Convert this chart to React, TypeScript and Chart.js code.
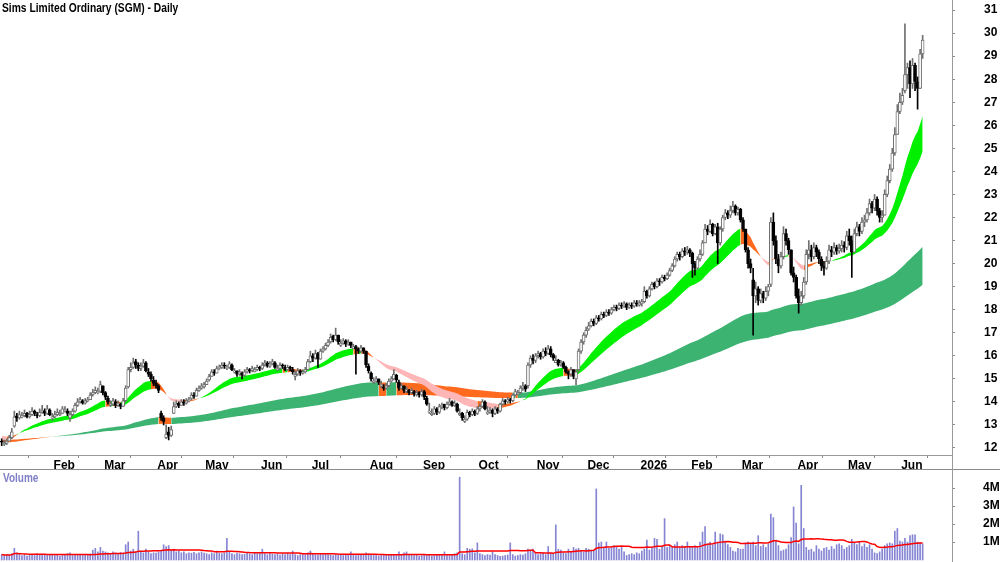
import React, { useEffect, useRef } from "react";
import { Chart, registerables } from "chart.js";

Chart.register(...registerables);

const FONT = "'Liberation Sans Narrow', 'Arial Narrow', 'Liberation Sans', Arial, sans-serif";

const chartTitle = "Sims Limited Ordinary (SGM) - Daily";
const volumeTitle = "Volume";

// trading days in each month, Jan 2025 .. Jun 2026
const tradingDaysPerMonth = [21, 20, 21, 19, 22, 20, 23, 21, 22, 23, 20, 21, 20, 20, 22, 20, 21, 9];
// labels for month boundaries Feb 2025 .. Jun 2026
const monthTickLabels = ["Feb", "Mar", "Apr", "May", "Jun", "Jul", "Aug", "Sep", "Oct", "Nov", "Dec", "2026", "Feb", "Mar", "Apr", "May", "Jun"];
const priceTicks = [12, 13, 14, 15, 16, 17, 18, 19, 20, 21, 22, 23, 24, 25, 26, 27, 28, 29, 30, 31];
const volumeTicks = [1, 2, 3, 4];

const opensByMonth: number[][] = [
  [12.3, 12.15, 12.2, 12.3, 12.45, 12.95, 13.4, 13.3, 13.35, 13.4, 13.5, 13.35, 13.45, 13.6, 13.45, 13.4, 13.55, 13.6, 13.5, 13.65, 13.3],
  [13.35, 13.45, 13.45, 13.5, 13.6, 13.6, 13.3, 13.45, 13.6, 13.85, 14.0, 14.05, 13.95, 14.05, 14.1, 14.3, 14.4, 14.4, 14.45, 14.7],
  [14.4, 14.15, 13.85, 13.9, 14.0, 13.85, 13.9, 13.8, 14.05, 14.65, 15.4, 15.5, 15.75, 15.6, 15.45, 15.55, 15.7, 15.3, 15.2, 14.95, 14.8],
  [14.7, 13.5, 13.3, 12.45, 12.7, 12.55, 13.5, 13.8, 13.95, 13.85, 14.0, 13.95, 14.05, 14.15, 14.3, 14.25, 14.5, 14.6, 14.65],
  [14.75, 14.95, 15.1, 15.3, 15.25, 15.45, 15.5, 15.6, 15.45, 15.5, 15.6, 15.3, 15.35, 15.2, 15.25, 15.15, 15.3, 15.4, 15.35, 15.3, 15.4, 15.5],
  [15.45, 15.6, 15.7, 15.55, 15.65, 15.7, 15.4, 15.45, 15.6, 15.5, 15.4, 15.5, 15.4, 15.1, 15.2, 15.35, 15.25, 15.3, 15.4, 15.75],
  [16.0, 15.9, 16.1, 15.85, 16.2, 16.3, 16.45, 16.6, 16.85, 16.7, 16.9, 16.45, 16.55, 16.65, 16.5, 16.6, 16.3, 16.4, 16.3, 16.2, 16.35, 16.2, 15.55],
  [15.25, 14.85, 14.9, 15.0, 14.7, 14.65, 14.6, 14.7, 14.9, 15.0, 15.15, 14.85, 14.6, 14.7, 14.45, 14.5, 14.4, 14.45, 14.3, 14.4, 14.3],
  [14.45, 14.15, 13.55, 13.45, 13.5, 13.7, 13.55, 13.8, 13.9, 13.75, 13.9, 14.0, 13.85, 13.9, 13.45, 13.5, 13.15, 13.25, 13.55, 13.45, 13.6, 13.5],
  [13.7, 13.8, 14.0, 13.5, 13.55, 13.65, 13.5, 13.7, 13.6, 13.9, 14.05, 14.0, 14.1, 14.05, 14.3, 14.35, 14.4, 14.6, 14.7, 14.7, 15.6, 15.9, 15.8],
  [16.0, 16.1, 15.95, 16.2, 16.1, 16.3, 16.05, 15.7, 15.8, 15.6, 15.7, 15.5, 15.3, 15.2, 15.4, 15.0, 15.4, 16.2, 16.6, 16.9],
  [17.15, 17.3, 17.5, 17.4, 17.65, 17.6, 17.8, 17.75, 17.9, 17.85, 18.0, 18.1, 18.05, 18.2, 18.15, 18.25, 18.1, 18.2, 18.15, 18.3, 18.2],
  [18.25, 18.35, 18.8, 18.6, 18.9, 19.15, 19.0, 19.25, 19.2, 19.4, 19.35, 19.5, 19.7, 19.9, 20.2, 20.4, 20.3, 20.55, 20.5, 20.6],
  [20.45, 20.0, 19.8, 20.2, 20.4, 20.9, 21.5, 21.4, 21.7, 21.3, 21.6, 20.9, 21.5, 22.0, 22.2, 22.1, 22.3, 22.5, 22.2, 22.35],
  [21.9, 21.5, 20.6, 20.0, 19.3, 18.6, 18.9, 18.4, 18.7, 18.5, 18.8, 19.1, 21.8, 21.0, 20.2, 19.9, 20.3, 21.3, 21.0, 20.6, 19.6, 19.4],
  [18.6, 18.3, 18.6, 19.2, 20.4, 20.6, 20.3, 20.7, 20.5, 20.2, 19.9, 19.8, 20.1, 20.6, 20.5, 20.7, 20.55, 20.65, 20.8, 20.7],
  [21.2, 21.0, 20.5, 21.3, 21.6, 21.4, 21.8, 21.9, 22.2, 22.6, 22.4, 22.8, 22.3, 22.0, 22.1, 23.0, 23.6, 24.1, 24.8, 25.6, 26.6],
  [27.0, 27.5, 28.2, 28.5, 27.8, 28.6, 27.9, 27.6, 29.1],
];

const closesByMonth: number[][] = [
  [12.25, 12.2, 12.3, 12.45, 12.7, 13.35, 13.3, 13.45, 13.4, 13.5, 13.35, 13.45, 13.6, 13.5, 13.4, 13.55, 13.65, 13.5, 13.7, 13.45, 13.35],
  [13.45, 13.55, 13.5, 13.7, 13.65, 13.5, 13.45, 13.6, 13.85, 14.0, 14.1, 13.95, 14.05, 14.1, 14.3, 14.4, 14.5, 14.45, 14.75, 14.4],
  [14.2, 14.0, 13.9, 14.05, 13.85, 13.95, 13.8, 14.05, 14.6, 15.4, 15.5, 15.7, 15.6, 15.45, 15.55, 15.7, 15.35, 15.2, 15.0, 14.8, 14.7],
  [14.5, 13.3, 13.15, 12.6, 12.55, 12.8, 13.8, 13.9, 13.85, 14.0, 13.95, 14.05, 14.1, 14.3, 14.25, 14.5, 14.6, 14.7, 14.75],
  [14.9, 15.1, 15.3, 15.25, 15.45, 15.5, 15.6, 15.55, 15.5, 15.65, 15.4, 15.35, 15.2, 15.3, 15.15, 15.3, 15.4, 15.35, 15.45, 15.4, 15.5, 15.45],
  [15.6, 15.7, 15.55, 15.65, 15.75, 15.5, 15.45, 15.6, 15.55, 15.4, 15.5, 15.45, 15.3, 15.2, 15.35, 15.25, 15.3, 15.4, 15.75, 16.0],
  [15.9, 16.1, 15.85, 16.2, 16.3, 16.45, 16.6, 16.8, 16.7, 16.9, 16.6, 16.55, 16.65, 16.5, 16.6, 16.45, 16.4, 16.3, 16.2, 16.35, 16.2, 15.6, 15.35],
  [15.0, 14.9, 15.0, 14.85, 14.75, 14.6, 14.7, 14.9, 15.0, 15.2, 14.95, 14.6, 14.7, 14.5, 14.55, 14.4, 14.5, 14.35, 14.4, 14.3, 14.45],
  [14.2, 13.9, 13.6, 13.5, 13.7, 13.55, 13.8, 13.85, 13.75, 13.9, 14.0, 13.85, 13.95, 13.6, 13.5, 13.3, 13.25, 13.55, 13.45, 13.6, 13.5, 13.7],
  [13.8, 14.0, 13.7, 13.55, 13.65, 13.5, 13.7, 13.6, 13.9, 14.05, 14.0, 14.1, 14.05, 14.3, 14.45, 14.4, 14.6, 14.7, 14.55, 15.6, 15.9, 15.8, 16.0],
  [16.1, 15.95, 16.2, 16.1, 16.3, 16.05, 15.9, 15.8, 15.6, 15.7, 15.5, 15.3, 15.2, 15.4, 15.1, 15.3, 16.2, 16.6, 16.9, 17.1],
  [17.3, 17.5, 17.4, 17.65, 17.6, 17.8, 17.75, 17.9, 17.85, 18.0, 18.1, 18.05, 18.2, 18.15, 18.25, 18.1, 18.2, 18.15, 18.3, 18.25, 18.3],
  [18.35, 18.8, 18.6, 18.9, 19.1, 19.0, 19.25, 19.2, 19.4, 19.35, 19.5, 19.7, 19.9, 20.2, 20.4, 20.3, 20.55, 20.5, 20.6, 20.45],
  [20.0, 19.8, 20.2, 20.4, 20.9, 21.5, 21.4, 21.7, 21.3, 21.6, 20.9, 21.5, 22.0, 22.2, 22.1, 22.3, 22.5, 22.2, 22.35, 21.9],
  [21.5, 20.6, 20.0, 19.8, 18.6, 18.9, 18.4, 18.7, 18.5, 18.8, 19.0, 21.8, 21.0, 20.2, 19.9, 20.3, 21.3, 21.0, 20.6, 19.6, 19.4, 18.6],
  [18.3, 18.6, 19.2, 20.4, 20.6, 20.3, 20.7, 20.5, 20.2, 19.9, 19.8, 20.1, 20.6, 20.5, 20.7, 20.55, 20.65, 20.8, 20.7, 21.2],
  [21.0, 20.5, 21.3, 21.6, 21.4, 21.8, 21.9, 22.2, 22.6, 22.4, 22.8, 22.3, 22.0, 22.1, 23.0, 23.6, 24.1, 24.8, 25.6, 26.6, 27.0],
  [27.3, 28.2, 28.5, 27.8, 28.6, 27.9, 27.6, 29.1, 29.7],
];

const highsByMonth: number[][] = [
  [12.4, 12.35, 12.4, 12.55, 12.85, 13.6, 13.5, 13.6, 13.55, 13.65, 13.55, 13.6, 13.75, 13.65, 13.55, 13.7, 13.85, 13.7, 13.85, 13.7, 13.5],
  [13.6, 13.7, 13.65, 13.8, 13.8, 13.7, 13.6, 13.7, 13.95, 14.15, 14.2, 14.1, 14.15, 14.2, 14.4, 14.55, 14.65, 14.6, 14.9, 14.7],
  [14.45, 14.25, 14.05, 14.15, 14.1, 14.05, 13.95, 14.15, 14.7, 15.5, 15.7, 15.9, 15.85, 15.7, 15.7, 15.85, 15.75, 15.45, 15.3, 15.1, 14.95],
  [14.75, 13.6, 13.4, 13.0, 12.9, 12.95, 14.0, 14.05, 14.0, 14.1, 14.1, 14.15, 14.2, 14.4, 14.4, 14.6, 14.7, 14.8, 14.85],
  [15.0, 15.2, 15.4, 15.4, 15.55, 15.6, 15.7, 15.7, 15.6, 15.75, 15.65, 15.45, 15.35, 15.4, 15.3, 15.4, 15.5, 15.45, 15.55, 15.5, 15.6, 15.55],
  [15.7, 15.8, 15.75, 15.75, 15.85, 15.75, 15.6, 15.7, 15.65, 15.6, 15.6, 15.55, 15.5, 15.35, 15.45, 15.4, 15.4, 15.5, 15.85, 16.2],
  [16.1, 16.25, 16.15, 16.3, 16.4, 16.55, 16.7, 16.95, 16.9, 17.2, 16.9, 16.7, 16.75, 16.7, 16.7, 16.6, 16.5, 16.45, 16.35, 16.45, 16.35, 16.2, 15.65],
  [15.3, 15.05, 15.1, 15.0, 14.9, 14.75, 14.8, 15.0, 15.1, 15.4, 15.2, 14.95, 14.8, 14.7, 14.65, 14.55, 14.6, 14.5, 14.5, 14.45, 14.55],
  [14.5, 14.25, 13.95, 13.7, 13.8, 13.75, 13.9, 13.95, 13.9, 14.0, 14.15, 14.05, 14.05, 13.95, 13.7, 13.55, 13.4, 13.65, 13.6, 13.7, 13.65, 13.8],
  [13.9, 14.1, 14.05, 13.8, 13.75, 13.7, 13.8, 13.75, 13.95, 14.15, 14.1, 14.2, 14.15, 14.35, 14.55, 14.5, 14.7, 14.85, 14.75, 15.7, 16.0, 16.05, 16.1],
  [16.2, 16.15, 16.3, 16.35, 16.45, 16.4, 16.1, 16.0, 15.85, 15.8, 15.75, 15.55, 15.35, 15.5, 15.4, 15.4, 16.3, 16.7, 17.0, 17.25],
  [17.45, 17.6, 17.6, 17.75, 17.75, 17.9, 17.9, 18.0, 18.0, 18.1, 18.2, 18.2, 18.3, 18.3, 18.35, 18.3, 18.3, 18.3, 18.4, 18.4, 18.4],
  [18.45, 19.0, 18.85, 19.0, 19.2, 19.2, 19.35, 19.35, 19.5, 19.5, 19.6, 19.8, 20.0, 20.3, 20.5, 20.5, 20.65, 20.7, 20.75, 20.65],
  [20.5, 20.1, 20.3, 20.6, 21.0, 21.7, 21.65, 21.9, 21.75, 21.7, 21.75, 21.6, 22.1, 22.35, 22.3, 22.5, 22.7, 22.55, 22.45, 22.4],
  [22.0, 21.5, 20.7, 20.2, 19.8, 19.2, 19.0, 18.9, 18.8, 19.0, 19.1, 22.0, 22.2, 21.2, 20.4, 20.5, 21.6, 21.5, 21.1, 20.6, 19.85, 19.5],
  [18.9, 18.8, 19.4, 20.6, 21.0, 20.8, 20.9, 20.8, 20.6, 20.3, 20.1, 20.3, 20.8, 20.75, 20.9, 20.8, 20.85, 21.0, 20.95, 21.4],
  [21.5, 21.2, 21.5, 21.8, 21.7, 22.0, 22.1, 22.4, 22.8, 22.7, 23.0, 22.9, 22.4, 22.3, 23.2, 23.8, 24.3, 25.0, 25.9, 26.9, 27.4],
  [27.6, 30.4, 28.7, 28.8, 28.9, 28.7, 28.1, 29.3, 29.9],
];

const lowsByMonth: number[][] = [
  [12.1, 12.1, 12.15, 12.3, 12.4, 12.9, 13.15, 13.25, 13.3, 13.35, 13.3, 13.3, 13.4, 13.4, 13.3, 13.35, 13.5, 13.4, 13.45, 13.4, 13.2],
  [13.3, 13.4, 13.4, 13.5, 13.55, 13.4, 13.15, 13.4, 13.55, 13.8, 13.95, 13.9, 13.9, 14.0, 14.1, 14.25, 14.35, 14.35, 14.4, 14.3],
  [14.1, 13.9, 13.8, 13.85, 13.75, 13.8, 13.7, 13.8, 14.0, 14.6, 15.3, 15.45, 15.45, 15.35, 15.35, 15.5, 15.3, 15.1, 14.9, 14.7, 14.6],
  [14.4, 13.2, 13.0, 12.4, 12.35, 12.5, 13.6, 13.75, 13.75, 13.85, 13.85, 13.9, 14.0, 14.1, 14.15, 14.3, 14.45, 14.55, 14.6],
  [14.75, 14.9, 15.1, 15.15, 15.25, 15.4, 15.45, 15.45, 15.4, 15.45, 15.35, 15.25, 15.1, 15.15, 15.0, 15.1, 15.25, 15.25, 15.3, 15.3, 15.35, 15.35],
  [15.4, 15.55, 15.5, 15.5, 15.6, 15.45, 15.35, 15.4, 15.45, 15.35, 15.35, 15.35, 15.2, 14.95, 15.15, 15.15, 15.2, 15.25, 15.4, 15.7],
  [15.75, 15.85, 15.5, 15.85, 16.15, 16.25, 16.4, 16.55, 16.6, 16.65, 16.5, 16.4, 16.5, 16.4, 16.45, 16.35, 16.3, 15.2, 16.1, 16.15, 16.1, 15.5, 15.25],
  [14.9, 14.8, 14.85, 14.75, 14.6, 14.5, 14.55, 14.65, 14.85, 14.95, 14.85, 14.5, 14.55, 14.4, 14.4, 14.3, 14.35, 14.25, 14.25, 14.2, 14.25],
  [14.1, 13.85, 13.5, 13.4, 13.45, 13.45, 13.5, 13.7, 13.65, 13.7, 13.85, 13.8, 13.8, 13.55, 13.4, 13.2, 13.1, 13.2, 13.35, 13.4, 13.4, 13.45],
  [13.6, 13.75, 13.65, 13.45, 13.5, 13.35, 13.45, 13.5, 13.55, 13.85, 13.9, 13.95, 13.95, 14.0, 14.25, 14.3, 14.35, 14.5, 14.45, 14.6, 15.5, 15.65, 15.7],
  [15.9, 15.85, 15.9, 16.0, 16.05, 15.95, 15.8, 15.7, 15.55, 15.55, 15.45, 15.25, 15.0, 15.1, 15.0, 14.75, 15.3, 16.1, 16.5, 16.8],
  [17.1, 17.25, 17.3, 17.35, 17.5, 17.55, 17.65, 17.7, 17.75, 17.8, 17.95, 17.95, 18.0, 18.05, 18.1, 18.0, 18.05, 18.05, 18.1, 18.15, 18.15],
  [18.15, 18.3, 18.5, 18.55, 18.85, 18.9, 18.95, 19.05, 19.15, 19.25, 19.3, 19.45, 19.65, 19.85, 20.1, 20.15, 20.25, 20.35, 20.4, 20.3],
  [19.4, 19.5, 19.75, 20.1, 20.35, 20.9, 21.25, 21.35, 21.2, 21.25, 20.0, 20.8, 21.4, 21.9, 21.95, 22.0, 22.2, 22.1, 22.1, 21.8],
  [21.4, 20.5, 19.8, 19.6, 16.9, 18.3, 18.2, 18.3, 18.3, 18.4, 18.6, 19.0, 20.8, 20.0, 19.6, 19.8, 20.2, 20.8, 20.4, 19.5, 19.2, 18.5],
  [17.85, 18.2, 18.5, 19.1, 20.2, 20.1, 20.2, 20.3, 20.0, 19.7, 19.5, 19.75, 20.0, 20.3, 20.4, 20.4, 20.45, 20.5, 20.5, 20.6],
  [20.8, 19.4, 20.5, 21.2, 21.2, 21.3, 21.6, 21.8, 22.1, 22.2, 22.3, 22.1, 21.8, 21.8, 22.2, 22.9, 23.5, 24.0, 24.7, 25.6, 26.5],
  [26.9, 27.4, 27.6, 27.2, 27.6, 27.5, 26.7, 27.6, 28.9],
];

// volume in millions of shares
const volumesByMonth: number[][] = [
  [0.3, 0.25, 0.3, 0.28, 0.35, 0.65, 0.4, 0.3, 0.25, 0.3, 0.22, 0.28, 0.3, 0.25, 0.35, 0.3, 0.28, 0.32, 0.25, 0.3, 0.28],
  [0.25, 0.3, 0.22, 0.28, 0.3, 0.35, 0.4, 0.25, 0.3, 0.28, 0.3, 0.25, 0.32, 0.3, 0.35, 0.55, 0.65, 0.45, 0.7, 0.5],
  [0.45, 0.4, 0.35, 0.45, 0.4, 0.35, 0.42, 0.38, 0.85, 1.0, 0.5, 0.6, 0.45, 1.6, 0.5, 0.4, 0.6, 0.45, 0.35, 0.4, 0.38],
  [0.45, 0.5, 0.85, 0.75, 0.8, 0.55, 0.6, 0.45, 0.5, 0.4, 0.45, 0.35, 0.4, 0.38, 0.42, 0.35, 0.4, 0.45, 0.38],
  [0.35, 0.3, 0.4, 0.35, 0.5, 0.38, 0.35, 0.4, 1.2, 0.45, 0.35, 0.3, 0.38, 0.35, 0.3, 0.32, 0.4, 0.35, 0.3, 0.38, 0.35, 0.4],
  [0.6, 0.35, 0.3, 0.4, 0.32, 0.3, 0.35, 0.28, 0.33, 0.3, 0.38, 0.3, 0.5, 0.3, 0.25, 0.3, 0.35, 0.3, 0.4, 0.5],
  [0.35, 0.3, 0.28, 0.32, 0.3, 0.35, 0.3, 0.28, 0.25, 0.3, 0.28, 0.3, 0.25, 0.3, 0.28, 0.45, 0.3, 0.25, 0.3, 0.28, 0.3, 0.4, 0.35],
  [0.3, 0.25, 0.28, 0.22, 0.25, 0.3, 0.28, 0.25, 0.3, 0.28, 0.25, 0.45, 0.3, 0.4, 0.45, 0.3, 0.28, 0.25, 0.3, 0.22, 0.25],
  [0.28, 0.25, 0.3, 0.22, 0.25, 0.3, 0.28, 0.3, 0.45, 0.3, 0.25, 0.3, 0.35, 0.4, 4.6, 0.35, 0.3, 0.65, 0.6, 0.62, 0.4, 0.95],
  [0.35, 0.3, 0.25, 0.3, 0.28, 0.45, 0.3, 0.25, 0.2, 0.22, 0.25, 0.28, 0.95, 0.3, 0.22, 0.25, 0.3, 0.28, 0.35, 0.6, 0.55, 0.6, 0.4],
  [0.3, 0.35, 0.4, 0.3, 0.75, 0.4, 0.35, 1.95, 0.6, 0.55, 0.4, 0.35, 0.6, 0.45, 0.7, 0.6, 0.65, 0.5, 0.45, 0.65],
  [0.6, 0.5, 0.55, 3.95, 0.95, 1.0, 0.7, 1.0, 0.65, 0.7, 0.8, 0.75, 0.6, 0.7, 0.45, 0.25, 0.3, 0.35, 0.3, 0.4, 0.35],
  [0.5, 0.6, 1.1, 0.55, 0.7, 1.2, 1.15, 0.6, 0.75, 2.3, 0.7, 0.8, 0.75, 0.85, 1.0, 0.7, 0.8, 0.75, 1.0, 0.7],
  [0.75, 0.8, 0.7, 1.0, 1.55, 1.85, 0.9, 1.0, 0.85, 1.55, 1.0, 1.45, 1.4, 1.05, 0.85, 0.7, 0.5, 0.45, 0.65, 0.6],
  [0.6, 0.95, 1.0, 0.9, 1.0, 0.8, 1.35, 0.75, 0.85, 0.7, 0.9, 2.55, 2.35, 1.1, 0.8, 0.5, 0.55, 0.6, 0.85, 1.25, 2.95, 2.05],
  [0.9, 4.15, 1.75, 0.7, 0.55, 0.6, 0.45, 0.8, 0.6, 0.5, 0.65, 0.7, 0.55, 0.75, 0.6, 0.85, 0.9, 0.8, 0.6, 0.7],
  [0.8, 1.15, 0.95, 0.85, 1.0, 0.75, 0.9, 0.7, 0.85, 0.6, 0.4, 0.35, 0.45, 0.6, 0.8, 0.9, 0.95, 0.9, 1.6, 1.75, 1.05],
  [1.0, 1.2, 1.0, 1.35, 1.4, 1.4, 1.0, 0.95, 0.9],
];

// moving-average settings and their values just before the first bar
const fastPeriods = [20, 35];
const fastSeeds = [12.4, 12.55];
const slowPeriods = [150, 250];
const slowSeeds = [12.25, 12.355];
const volumeMaPeriod = 30;

const LIME = "#00f000";
const SEA = "#3cb371";
const ORANGE = "#ff6a1f";
const PINK = "#ffb6b6";
const VOL_COLOR = "#8585d4";

const opens = opensByMonth.flat();
const closes = closesByMonth.flat();
const highs = highsByMonth.flat().map((h, i) => Math.max(h, opens[i], closes[i]));
const lows = lowsByMonth.flat().map((l, i) => Math.min(l, opens[i], closes[i]));
const volumes = volumesByMonth.flat();

const monthTickPositions: number[] = [];
{
  let acc = 0;
  for (let m = 0; m < tradingDaysPerMonth.length - 1; m++) {
    acc += tradingDaysPerMonth[m];
    monthTickPositions.push(acc - 0.5);
  }
}

function ema(values: number[], period: number, seed: number) {
  const a = 2 / (period + 1);
  let prev = seed;
  return values.map((v) => (prev = prev + a * (v - prev)));
}

const emaF1 = ema(closes, fastPeriods[0], fastSeeds[0]);
const emaF2 = ema(closes, fastPeriods[1], fastSeeds[1]);
const emaS1 = ema(closes, slowPeriods[0], slowSeeds[0]);
const emaS2 = ema(closes, slowPeriods[1], slowSeeds[1]);

// rising & above -> bullish, falling & below -> bearish, otherwise transitional
const fastColors = emaF1.map((v, i) => {
  const rising = v >= (i ? emaF1[i - 1] : fastSeeds[0]);
  const above = v >= emaF2[i];
  return rising && above ? LIME : !rising && !above ? PINK : ORANGE;
});
const slowColors = emaS1.map((v, i) => {
  const rising = v >= (i ? emaS1[i - 1] : slowSeeds[0]);
  return rising && v > emaS2[i] ? SEA : ORANGE;
});

const volMa = volumes.map((_, i) => {
  const s = Math.max(0, i - volumeMaPeriod + 1);
  const w = volumes.slice(s, i + 1);
  return w.reduce((a, b) => a + b, 0) / w.length;
});

const X_MIN = -0.67;
const X_MAX = 375.6;
const AXIS_W = 48;

const tickFont = { family: FONT, size: 12, weight: "bold" as const };

const fitY = (s: any) => {
  s.width = AXIS_W;
  s.paddingTop = 0;
  s.paddingBottom = 0;
};

export default function App() {
  const priceRef = useRef<HTMLCanvasElement>(null);
  const volRef = useRef<HTMLCanvasElement>(null);

  useEffect(() => {
    const up = closes.map((c, i) => c >= opens[i]);
    const pt = (arr: number[]) => arr.map((y, i) => ({ x: i, y }));

    const priceChart = new Chart(priceRef.current!, {
      type: "bar",
      data: {
        datasets: [
          {
            type: "bar",
            data: closes.map((c, i) => ({ x: i, y: [opens[i], c] })) as any,
            backgroundColor: up.map((u) => (u ? "#ffffff" : "#000000")),
            borderColor: up.map((u) => (u ? "#707070" : "#000000")),
            borderWidth: 1,
            borderSkipped: false,
            barThickness: 3,
            minBarLength: 1,
            grouped: false,
            order: 0,
          } as any,
          {
            type: "bar",
            data: closes.map((_, i) => ({ x: i, y: [lows[i], highs[i]] })) as any,
            backgroundColor: up.map((u) => (u ? "#707070" : "#000000")),
            borderWidth: 0,
            barThickness: 1,
            grouped: false,
            order: 1,
          } as any,
          {
            type: "line",
            data: pt(emaF1) as any,
            borderColor: "rgba(0,0,0,0)",
            borderWidth: 0,
            pointRadius: 0,
            backgroundColor: LIME,
            fill: "+1",
            segment: { backgroundColor: (ctx: any) => fastColors[ctx.p1DataIndex] },
            order: 2,
          } as any,
          {
            type: "line",
            data: pt(emaF2) as any,
            borderColor: "rgba(0,0,0,0)",
            borderWidth: 0,
            pointRadius: 0,
            fill: false,
            order: 2,
          } as any,
          {
            type: "line",
            data: pt(emaS1) as any,
            borderColor: "rgba(0,0,0,0)",
            borderWidth: 0,
            pointRadius: 0,
            backgroundColor: SEA,
            fill: "+1",
            segment: { backgroundColor: (ctx: any) => slowColors[ctx.p1DataIndex] },
            order: 3,
          } as any,
          {
            type: "line",
            data: pt(emaS2) as any,
            borderColor: "rgba(0,0,0,0)",
            borderWidth: 0,
            pointRadius: 0,
            fill: false,
            order: 3,
          } as any,
        ],
      },
      options: {
        responsive: false,
        animation: false,
        events: [],
        layout: { padding: 0 },
        plugins: { legend: { display: false }, tooltip: { enabled: false }, title: { display: false } },
        scales: {
          x: {
            type: "linear",
            min: X_MIN,
            max: X_MAX,
            offset: false,
            afterBuildTicks: (s: any) => {
              s.ticks = monthTickPositions.map((v) => ({ value: v }));
            },
            afterFit: (s: any) => {
              s.height = 14;
              s.paddingLeft = 0;
              s.paddingRight = 0;
            },
            grid: { drawOnChartArea: false, drawTicks: true, tickLength: 3, color: "#8a8a8a" },
            border: { display: true, color: "#9a9a9a" },
            ticks: {
              autoSkip: false,
              maxRotation: 0,
              minRotation: 0,
              align: "start",
              padding: 0,
              color: "#000",
              font: tickFont,
              callback: (_v: any, i: number) => monthTickLabels[i],
            },
          } as any,
          y: {
            type: "linear",
            position: "right",
            min: 11.696,
            max: 31.436,
            afterBuildTicks: (s: any) => {
              s.ticks = priceTicks.map((v) => ({ value: v }));
            },
            afterFit: fitY,
            grid: { drawOnChartArea: false, drawTicks: true, tickLength: 3, color: "#8a8a8a" },
            border: { display: false },
            ticks: { padding: 29, color: "#000", font: tickFont, crossAlign: "near" },
          } as any,
        },
      },
    });

    const volChart = new Chart(volRef.current!, {
      type: "bar",
      data: {
        datasets: [
          {
            type: "line",
            data: pt(volMa) as any,
            borderColor: "#ff0000",
            borderWidth: 1.5,
            pointRadius: 0,
            fill: false,
            order: 0,
          } as any,
          {
            type: "bar",
            data: pt(volumes) as any,
            backgroundColor: VOL_COLOR,
            borderWidth: 0,
            barThickness: 1,
            grouped: false,
            order: 1,
          } as any,
        ],
      },
      options: {
        responsive: false,
        animation: false,
        events: [],
        layout: { padding: 0 },
        plugins: { legend: { display: false }, tooltip: { enabled: false } },
        scales: {
          x: { type: "linear", min: X_MIN, max: X_MAX, offset: false, display: false } as any,
          y: {
            type: "linear",
            position: "right",
            min: -0.111,
            max: 5.0,
            afterBuildTicks: (s: any) => {
              s.ticks = volumeTicks.map((v) => ({ value: v }));
            },
            afterFit: fitY,
            grid: { drawOnChartArea: false, drawTicks: true, tickLength: 3, color: "#8a8a8a" },
            border: { display: false },
            ticks: { padding: 28, color: "#000", font: tickFont, callback: (v: any) => `${v}M` },
          } as any,
        },
      },
    });

    return () => {
      priceChart.destroy();
      volChart.destroy();
    };
  }, []);

  return (
    <div style={{ position: "fixed", left: 0, top: 0, width: 1000, height: 562, background: "#fff", overflow: "hidden" }}>
      <canvas ref={priceRef} width={1000} height={469} style={{ position: "absolute", left: 0, top: 0, display: "block" }} />
      <canvas ref={volRef} width={1000} height={92} style={{ position: "absolute", left: 0, top: 470, display: "block" }} />
      <div style={{ position: "absolute", left: 0, top: 469, width: 1000, height: 1, background: "#8a8a8a" }} />
      <div style={{ position: "absolute", left: 952, top: 0, width: 1, height: 562, background: "#9a9a9a" }} />
      <div style={{ position: "absolute", left: 2, top: 1, fontFamily: FONT, fontWeight: "bold", fontSize: 13, lineHeight: "14px", color: "#000", whiteSpace: "nowrap", transform: "scaleX(0.79)", transformOrigin: "0 0" }}>
        {chartTitle}
      </div>
      <div style={{ position: "absolute", left: 3, top: 471, fontFamily: FONT, fontWeight: "bold", fontSize: 12.5, lineHeight: "14px", color: "#7f7fc6", whiteSpace: "nowrap", transform: "scaleX(0.8)", transformOrigin: "0 0" }}>
        {volumeTitle}
      </div>
    </div>
  );
}
